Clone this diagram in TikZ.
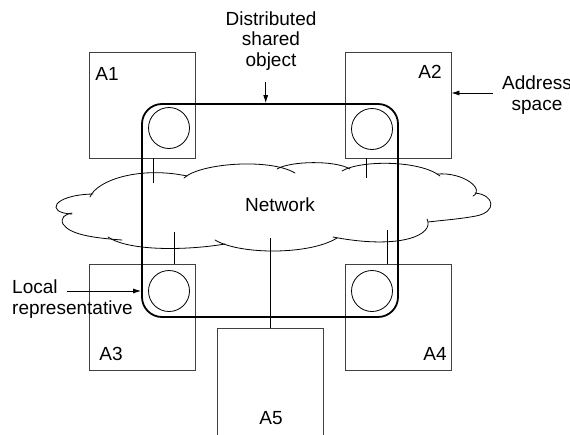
\documentclass[tikz,border=0pt]{standalone}
\usepackage{fontspec}
\setmainfont{Liberation Sans}
\usetikzlibrary{arrows.meta}
\begin{document}
\begin{tikzpicture}[x=1pt,y=-1pt,
  space/.style={draw=black!75, line width=0.8pt, minimum width=106pt, minimum height=106pt, inner sep=0pt},
  rep/.style={draw, circle, line width=0.8pt, minimum size=41pt, inner sep=0pt},
  link/.style={line width=0.8pt},
  cloudline/.style={line width=0.8pt, line cap=round},
  lbl/.style={font=\fontsize{19}{20.5}\selectfont, inner sep=0pt},
  pointer/.style={line width=0.8pt, -{Latex[length=8pt,width=5pt]}}]
\useasboundingbox (0,0) rectangle (570,434);

% address spaces
\node[space] (a1) at (142,105) {};
\node[space] (a2) at (398,105) {};
\node[space] (a3) at (142,317.5) {};
\node[space] (a4) at (398,317.5) {};
\node[space, minimum height=122pt] (a5) at (270,389) {};
\node[lbl] (a1lbl) at (107,74) {A1};
\node[lbl] (a2lbl) at (430,72) {A2};
\node[lbl] (a3lbl) at (111,354) {A3};
\node[lbl] (a4lbl) at (435,354) {A4};
\node[lbl] (a5lbl) at (271,418) {A5};

% distributed shared object
\node[draw, line width=1.8pt, rounded corners=20pt, minimum width=256pt, minimum height=213pt, inner sep=0pt] (dso) at (270,210.5) {};

% local representatives
\node[rep] (r1) at (169,128) {};
\node[rep] (r2) at (372,129) {};
\node[rep] (r3) at (169,291) {};
\node[rep] (r4) at (372,291) {};

% network cloud
\draw[cloudline] (72,214) .. controls (45,213) and (52,195) .. (93,194);
\draw[cloudline] (90,197) .. controls (97,180) and (140,166) .. (187,176);
\draw[cloudline] (184,178) .. controls (200,163) and (270,158) .. (295,173);
\draw[cloudline] (277,169) .. controls (290,161) and (335,160) .. (350,169);
\draw[cloudline] (342,171) .. controls (360,160) and (420,160) .. (440,176);
\draw[cloudline] (437,174) .. controls (465,172) and (485,190) .. (473,196);
\draw[cloudline] (475,193) .. controls (495,195) and (497,212) .. (476,216) .. controls (460,219) and (445,220) .. (428,222);
\draw[cloudline] (427,219) .. controls (435,235) and (400,250) .. (333,237);
\draw[cloudline] (337,238) .. controls (310,255) and (240,255) .. (215,240);
\draw[cloudline] (225,244) .. controls (190,250) and (130,252) .. (108,237);
\draw[cloudline] (122,240) .. controls (95,238) and (70,235) .. (63,224) .. controls (60,218) and (65,214) .. (72,213);
\node[lbl] (net) at (280,205) {Network};

% attachments to the network
\coordinate (n1) at (153,183);
\coordinate (n2) at (366,178);
\coordinate (n3) at (174,232);
\coordinate (n4) at (387,230);
\coordinate (n5) at (270,238);
\draw[link] (a1.south -| n1) -- (n1);
\draw[link] (a2.south -| n2) -- (n2);
\draw[link] (n3) -- (a3.north -| n3);
\draw[link] (n4) -- (a4.north -| n4);
\draw[link] (n5) -- (a5.north -| n5);

% annotations (base anchor sits on the last line of each block)
\node[lbl, align=center, anchor=base] (dsotext) at (271,66) {Distributed\\shared\\object};
\coordinate (dsotail) at (265.7,82);
\draw[pointer] (dsotail) -- (dsotail |- dso.north);

\node[lbl, align=center, anchor=base] (addr) at (537,110) {Address\\space};
\coordinate (addrtail) at (493,93);
\draw[pointer] (addrtail) -- (addrtail -| a2.east);

\node[lbl, align=left, anchor=base west] (local) at (12,314) {Local\\representative};
\coordinate (loctail) at (67,291);
\draw[pointer] (loctail) -- (loctail -| dso.west);
\end{tikzpicture}
\end{document}
